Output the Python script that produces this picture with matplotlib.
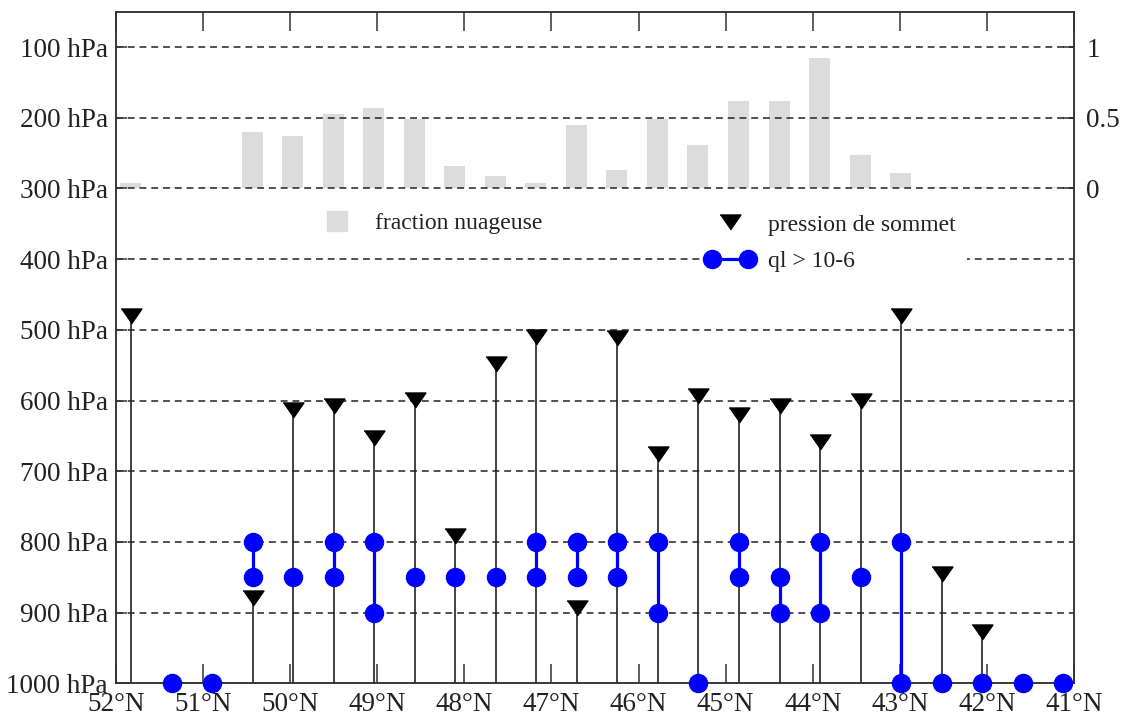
import matplotlib

matplotlib.use("Agg")
import matplotlib.pyplot as plt
import numpy as np
from matplotlib.lines import Line2D
from matplotlib.legend_handler import HandlerLine2D

# latitude of each model column (deg N)
lats = [51.83, 51.36, 50.90, 50.43, 49.97, 49.50, 49.04, 48.57, 48.11, 47.64, 47.18, 46.71,
        46.25, 45.78, 45.32, 44.85, 44.38, 43.92, 43.45, 42.99, 42.52, 42.06, 41.59, 41.13]

# fraction nuageuse (right axis)
cloud_frac = [0.04, 0.01, 0.01, 0.40, 0.37, 0.53, 0.57, 0.49, 0.16, 0.09, 0.04, 0.45,
              0.13, 0.49, 0.31, 0.62, 0.62, 0.92, 0.24, 0.11, 0.01, 0.01, 0.01, 0.01]

# pression de sommet (hPa), nan = no cloud top
top_press = [480, np.nan, np.nan, 880, 614, 608, 653, 599, 791, 549, 510, 893,
             511, 676, 594, 621, 608, 659, 600, 480, 845, 927, np.nan, np.nan]

# levels where ql > 1e-6 (hPa)
ql_levels = [[], [1000], [1000], [800, 850], [850], [800, 850], [800, 900], [850], [850], [850],
             [800, 850], [800, 850], [800, 850], [800, 900], [1000], [800, 850], [850, 900],
             [800, 900], [850], [800, 1000], [1000], [1000], [1000], [1000]]

xtick_lats = list(range(52, 40, -1))
press_ticks = list(range(100, 1001, 100))
frac_ticks = [0, 0.5, 1]

FONT = "Liberation Serif"
TXT = "#222222"
plt.rcParams["font.family"] = [FONT, "DejaVu Serif"]

fig = plt.figure(figsize=(11.23, 7.18), dpi=100)
ax = fig.add_axes([116 / 1123, 34.7 / 718, 958 / 1123, 671.6 / 718])
axf = ax.twinx()
ax.set_zorder(2)
axf.set_zorder(1)
ax.patch.set_visible(False)

# cloud fraction bars
bars = axf.bar(lats, cloud_frac, width=0.245, color="#dcdcdc", zorder=1)
axf.set_ylim(-3.5, 1.25)
axf.set_yticks(frac_ticks)
axf.set_yticklabels(["0", "0.5", "1"])
axf.tick_params(axis="y", direction="in", length=8, pad=9, labelsize=19.5,
                labelcolor=TXT, color="#333333", width=1.1)

ax.set_xlim(52, 41)
ax.set_ylim(1000, 50)

# grid
for p in press_ticks[:-1]:
    ax.axhline(p, color="#222222", lw=1.1, dashes=(4.5, 3.2), zorder=1)

# impulses + triangles
tri = [(-1, 0.72), (1, 0.72), (0, -0.72)]
for lat, p in zip(lats, top_press):
    if np.isnan(p):
        continue
    ax.plot([lat, lat], [p, 1000], color="#222222", lw=1.2, zorder=3)
ax.plot(lats, top_press, linestyle="none", marker=tri, ms=15, color="black", zorder=5)

# ql columns
for lat, levs in zip(lats, ql_levels):
    if not levs:
        continue
    ax.plot([lat] * len(levs), levs, "-o", color="#0000ff", lw=2.3, ms=13, zorder=4,
            clip_on=False)

ax.set_xticks(xtick_lats)
ax.set_xticklabels([f"{d}°N" for d in xtick_lats])
ax.set_yticks(press_ticks)
ax.set_yticklabels([f"{p} hPa" for p in press_ticks])
ax.tick_params(axis="x", direction="in", length=13.7, top=True, width=1.1, pad=6,
               labelsize=19.5, labelcolor=TXT, color="#333333")
ax.tick_params(axis="y", direction="in", length=8, width=1.1, pad=6,
               labelsize=19.5, labelcolor=TXT, color="#333333")
for a in (ax, axf):
    for s in a.spines.values():
        s.set_color("#333333")
        s.set_linewidth(1.1)

# legends
h_frac = Line2D([], [], linestyle="none", marker="s", ms=14.5, color="#dcdcdc")
h_tri = Line2D([], [], linestyle="none", marker=tri, ms=15, color="black")
h_ql = Line2D([], [], linestyle="-", marker="o", ms=13, lw=2.3, color="#0000ff")

leg1 = ax.legend([h_frac], ["fraction nuageuse"], loc="center left",
                 bbox_to_anchor=(319 / 1123, (718 - 223) / 718), bbox_transform=fig.transFigure,
                 frameon=False, borderpad=0, borderaxespad=0, handlelength=1.53,
                 handletextpad=0.85, fontsize=17, numpoints=1)
for t in leg1.get_texts():
    t.set_color(TXT)
ax.add_artist(leg1)

leg2 = ax.legend([h_tri, h_ql], ["pression de sommet", "ql > 10-6"], loc="center left",
                 bbox_to_anchor=(700 / 1123, (718 - 243) / 718), bbox_transform=fig.transFigure,
                 frameon=True, fancybox=False, framealpha=1, edgecolor="none", facecolor="white",
                 borderpad=0.5, borderaxespad=0, handlelength=1.53, handletextpad=0.85,
                 labelspacing=0.62, fontsize=17,
                 handler_map={h_tri: HandlerLine2D(numpoints=1),
                              h_ql: HandlerLine2D(numpoints=2, marker_pad=0)})
leg2.set_zorder(6)
for t in leg2.get_texts():
    t.set_color(TXT)

fig.savefig("out.png", dpi=100)
